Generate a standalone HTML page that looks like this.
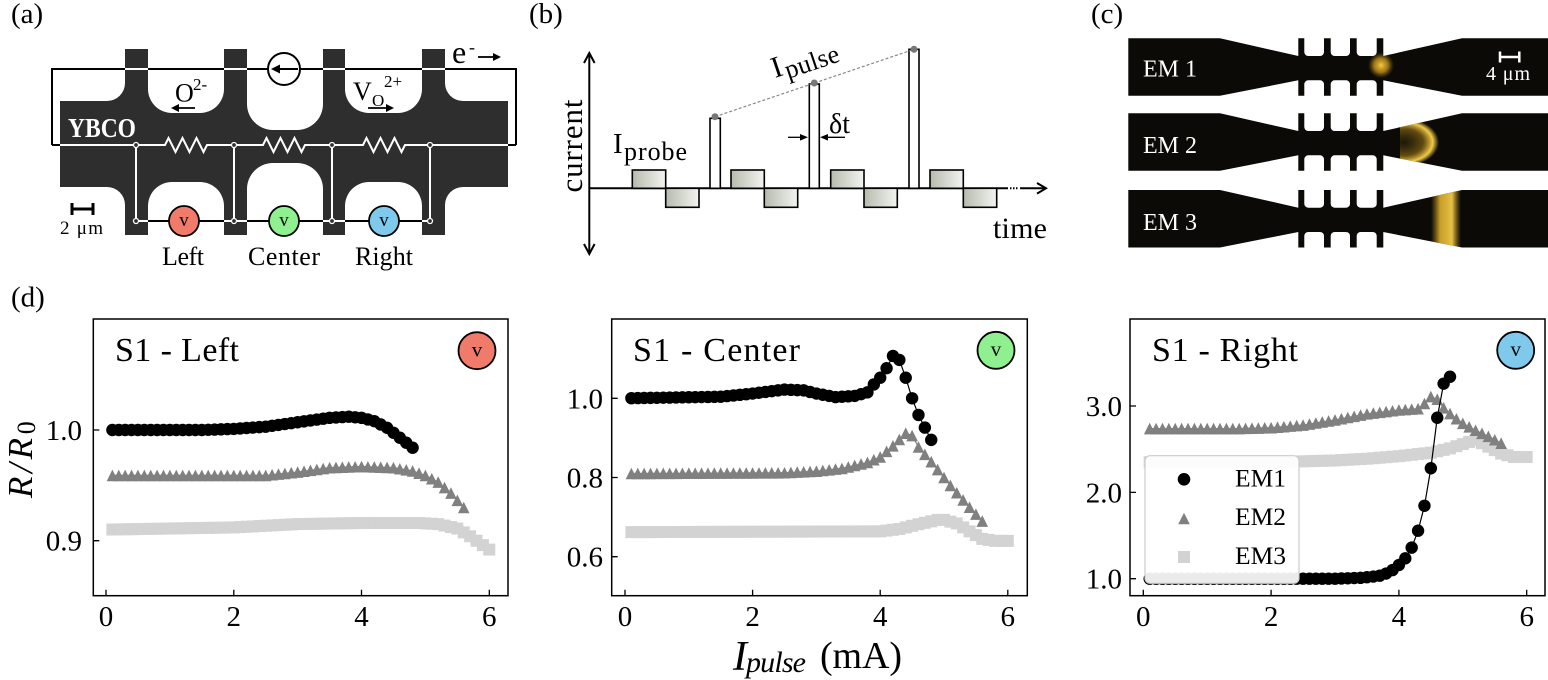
<!DOCTYPE html>
<html><head><meta charset="utf-8"><style>
html,body{margin:0;padding:0;background:#fff;}
svg{display:block;font-family:"Liberation Serif","DejaVu Serif",serif;}
</style></head><body>
<svg width="1548" height="680" viewBox="0 0 1548 680" xmlns="http://www.w3.org/2000/svg">
<defs>
<linearGradient id="gb" x1="0" y1="0" x2="1" y2="0"><stop offset="0" stop-color="#b6bbae"/><stop offset="1" stop-color="#f3f4f0"/></linearGradient>
<radialGradient id="glow"><stop offset="0" stop-color="#ffd54a" stop-opacity="0.95"/><stop offset="0.55" stop-color="#d9a21a" stop-opacity="0.7"/><stop offset="1" stop-color="#8a6a10" stop-opacity="0"/></radialGradient>
<radialGradient id="ring"><stop offset="0" stop-color="#8a6a10" stop-opacity="0.15"/><stop offset="0.55" stop-color="#c89a20" stop-opacity="0.45"/><stop offset="0.82" stop-color="#ffd54a" stop-opacity="0.95"/><stop offset="1" stop-color="#ffd54a" stop-opacity="0"/></radialGradient>
<linearGradient id="band" x1="0" y1="0" x2="1" y2="0"><stop offset="0" stop-color="#c89a20" stop-opacity="0"/><stop offset="0.3" stop-color="#e8b830" stop-opacity="0.85"/><stop offset="0.7" stop-color="#ffd54a" stop-opacity="0.9"/><stop offset="1" stop-color="#c89a20" stop-opacity="0"/></linearGradient>
<g id="strip">
<path d="M1128.3 0 H1220 L1298.3 17.7 V0 H1383.3 V17.7 L1462 0 H1548 V57.5 H1462 L1383.3 42 V57.5 H1298.3 V42 L1220 57.5 H1128.3 Z" fill="#0b0a06"/>
<rect x="1304.3" y="-6" width="19.7" height="23.7" rx="4" fill="#fff"/>
<rect x="1330.7" y="-6" width="19.3" height="23.7" rx="4" fill="#fff"/>
<rect x="1356.7" y="-6" width="20" height="23.7" rx="4" fill="#fff"/>
<rect x="1304.3" y="42" width="19.7" height="22" rx="4" fill="#fff"/>
<rect x="1330.7" y="42" width="19.3" height="22" rx="4" fill="#fff"/>
<rect x="1356.7" y="42" width="20" height="22" rx="4" fill="#fff"/>
</g>
<clipPath id="sc"><path d="M1128.3 0 H1220 L1298.3 17.7 V0 H1383.3 V17.7 L1462 0 H1548 V57.5 H1462 L1383.3 42 V57.5 H1298.3 V42 L1220 57.5 H1128.3 Z"/></clipPath>
<clipPath id="halfR"><rect x="1400" y="-10" width="100" height="80"/></clipPath>
</defs>

<!-- ===== Panel (a) ===== -->
<rect x="60" y="49" width="448" height="186" fill="#2e2e2e"/>
<g fill="#fff">
<rect x="10" y="20" width="115" height="81" rx="18"/>
<rect x="148" y="20" width="76" height="93" rx="24"/>
<rect x="247" y="20" width="76" height="110" rx="26"/>
<rect x="345" y="20" width="77" height="93" rx="24"/>
<rect x="445" y="20" width="95" height="81" rx="18"/>
<rect x="10" y="187" width="115" height="73" rx="18"/>
<rect x="148" y="182" width="76" height="78" rx="24"/>
<rect x="247" y="163" width="76" height="97" rx="26"/>
<rect x="345" y="182" width="77" height="78" rx="24"/>
<rect x="445" y="187" width="95" height="73" rx="18"/>
</g>
<text x="11" y="23" font-size="29">(a)</text>
<g fill="none" stroke-width="2">
<path d="M52 145 V69 H125 M148 69 H224 M247 69 H268 M300 69 H323 M345 69 H422 M445 69 H516 V145 M52 145 H60 M508 145 H516" stroke="#000"/>
<path d="M125 69 H148 M224 69 H247 M323 69 H345 M422 69 H445" stroke="#fff"/>
<path d="M60 145 H165 L168.5 138 L175.5 152 L182.5 138 L189.5 152 L196.5 138 L203.5 152 L207 145 H263 L266.5 138 L273.5 152 L280.5 138 L287.5 152 L294.5 138 L301.5 152 L305 145 H363 L366.5 138 L373.5 152 L380.5 138 L387.5 152 L394.5 138 L401.5 152 L405 145 H508" stroke="#fff"/>
<path d="M136 145 V221 M234 145 V221 M332 145 V221 M430 145 V221" stroke="#fff"/>
<path d="M136 221 H430" stroke="#000"/>
<path d="M136 221 H148 M224 221 H247 M323 221 H345 M422 221 H430" stroke="#fff"/>
</g>
<g fill="#2e2e2e" stroke="#fff" stroke-width="1.3">
<circle cx="136" cy="145" r="2.5"/><circle cx="234" cy="145" r="2.5"/><circle cx="332" cy="145" r="2.5"/><circle cx="430" cy="145" r="2.5"/>
<circle cx="136" cy="221" r="2.5"/><circle cx="234" cy="221" r="2.5"/><circle cx="332" cy="221" r="2.5"/><circle cx="430" cy="221" r="2.5"/>
</g>
<circle cx="284" cy="69" r="16" fill="#fff" stroke="#000" stroke-width="2"/>
<path d="M298 69 H277" stroke="#000" stroke-width="2"/>
<path d="M271 69 L280 64.5 L280 73.5 Z" fill="#000"/>
<g stroke="#000" stroke-width="1.8">
<circle cx="184" cy="221" r="15" fill="#f07b6b"/>
<circle cx="284" cy="221" r="15" fill="#8ff08f"/>
<circle cx="384" cy="221" r="15" fill="#7ec9ec"/>
</g>
<g font-size="19" text-anchor="middle" fill="#000">
<text x="184" y="226">v</text><text x="284" y="226">v</text><text x="384" y="226">v</text>
</g>
<text x="68" y="137" font-size="27" font-weight="bold" fill="#fff" textLength="68" lengthAdjust="spacingAndGlyphs">YBCO</text>
<text x="175" y="101.5" font-size="26">O</text>
<text x="193" y="90" font-size="17">2-</text>
<path d="M195 108 H178" stroke="#000" stroke-width="1.8"/><path d="M171 108 L179 104 L179 112 Z" fill="#000"/>
<text x="353" y="100" font-size="26">V</text>
<text x="372" y="106" font-size="17">O</text>
<text x="384" y="87" font-size="17">2+</text>
<path d="M368 108 H387" stroke="#000" stroke-width="1.8"/><path d="M394 108 L386 104 L386 112 Z" fill="#000"/>
<text x="452" y="63" font-size="32">e</text>
<text x="469" y="53" font-size="18">-</text>
<path d="M478 57 H494" stroke="#000" stroke-width="1.8"/><path d="M501 57 L493 53 L493 61 Z" fill="#000"/>
<path d="M72 209 H93 M72 203 V215 M93 203 V215" stroke="#000" stroke-width="3" fill="none"/>
<text x="60" y="234" font-size="19" textLength="43">2 μm</text>
<text x="162" y="265" font-size="26" textLength="42">Left</text>
<text x="248" y="265" font-size="26" textLength="72">Center</text>
<text x="355" y="265" font-size="26" textLength="58">Right</text>

<!-- ===== Panel (b) ===== -->
<text x="529" y="23" font-size="29">(b)</text>
<g stroke="#000" stroke-width="2" fill="none">
<path d="M589.3 55 V252"/>
<path d="M584 63 L589.3 53 L594.6 63 M584 244 L589.3 254 L594.6 244"/>
<path d="M589.3 188.3 H1008 M1020 188.3 H1045"/>
<path d="M1037 183 L1046 188.3 L1037 193.6"/>
</g>
<path d="M1010 188.3 H1019" stroke="#000" stroke-width="2" stroke-dasharray="1.5,1.5"/>
<g stroke="#000" stroke-width="1.6" fill="url(#gb)">
<rect x="632.3" y="170" width="33.4" height="18.3"/><rect x="665.7" y="188.3" width="33.3" height="19"/>
<rect x="731" y="170" width="33.3" height="18.3"/><rect x="764.3" y="188.3" width="33.4" height="19"/>
<rect x="830.7" y="170" width="33.3" height="18.3"/><rect x="864" y="188.3" width="33.3" height="19"/>
<rect x="930" y="170" width="33.3" height="18.3"/><rect x="963.3" y="188.3" width="33.4" height="19"/>
</g>
<g stroke="#000" stroke-width="1.6" fill="#fff">
<rect x="710" y="118.3" width="10.3" height="70"/>
<rect x="809.3" y="84" width="10" height="104.3"/>
<rect x="909" y="49.3" width="10" height="139"/>
</g>
<path d="M715 116.7 L914 49.3" stroke="#888" stroke-width="1.2" stroke-dasharray="3,2"/>
<g fill="#777"><circle cx="715" cy="116.7" r="3.5"/><circle cx="814.3" cy="83" r="3.5"/><circle cx="914" cy="49.3" r="3.5"/></g>
<g transform="translate(775,78) rotate(-18.7)">
<text x="0" y="0" font-size="30">I</text>
<text x="12" y="5" font-size="26" textLength="56">pulse</text>
</g>
<text x="613" y="153" font-size="29">I</text>
<text x="624" y="160" font-size="26" textLength="63">probe</text>
<text x="829" y="133" font-size="28">δt</text>
<path d="M788 137.3 H801" stroke="#000" stroke-width="1.3"/><path d="M808 137.3 L800 134 L800 140.6 Z" fill="#000"/>
<path d="M845 137.3 H827" stroke="#000" stroke-width="1.3"/><path d="M820 137.3 L828 134 L828 140.6 Z" fill="#000"/>
<text transform="translate(582,146) rotate(-90)" text-anchor="middle" font-size="31" textLength="93">current</text>
<text x="993" y="238" font-size="30" textLength="54">time</text>

<!-- ===== Panel (c) ===== -->
<text x="1091" y="23" font-size="29">(c)</text>
<g transform="translate(0,38.3)"><use href="#strip"/><g clip-path="url(#sc)"><circle cx="1381" cy="27" r="13" fill="url(#glow)"/></g></g>
<g transform="translate(0,113.3)"><use href="#strip"/><g clip-path="url(#sc)"><g clip-path="url(#halfR)"><ellipse cx="1404" cy="29" rx="35" ry="24" fill="url(#ring)"/></g></g></g>
<g transform="translate(0,190)"><use href="#strip"/><g clip-path="url(#sc)"><rect x="1431" y="0" width="30" height="58" fill="url(#band)"/></g></g>
<g fill="#fff" font-size="24">
<text x="1143" y="76.7" textLength="54">EM 1</text>
<text x="1143" y="153" textLength="54">EM 2</text>
<text x="1143" y="230" textLength="54">EM 3</text>
</g>
<path d="M1500 57 H1519.3 M1500 51.5 V62.5 M1519.3 51.5 V62.5" stroke="#fff" stroke-width="2.5" fill="none"/>
<text x="1486" y="80" font-size="20" fill="#fff" textLength="44">4 μm</text>

<!-- ===== Panel (d) ===== -->
<text x="11" y="306.5" font-size="29">(d)</text>

<g id="d1"></g><g id="d2"></g><g id="d3"></g>

<g fill="none" stroke="#000" stroke-width="1.5">
<rect x="93.3" y="319" width="414.7" height="276.7"/>
<rect x="611.7" y="319" width="415.6" height="276.7"/>
<rect x="1130" y="319" width="415" height="276.7"/>
</g>
<g stroke="#000" stroke-width="1.3">
<path d="M106 595.7 V589.7 M233.8 595.7 V589.7 M361.5 595.7 V589.7 M489.3 595.7 V589.7 M93.3 430 H99.3 M93.3 540.7 H99.3"/>
<path d="M625 595.7 V589.7 M752.6 595.7 V589.7 M880.2 595.7 V589.7 M1007.8 595.7 V589.7 M611.7 398.3 H617.7 M611.7 477.5 H617.7 M611.7 556.7 H617.7"/>
<path d="M1143.3 595.7 V589.7 M1271.1 595.7 V589.7 M1398.9 595.7 V589.7 M1526.7 595.7 V589.7 M1130 406 H1136 M1130 492.4 H1136 M1130 578.7 H1136"/>
</g>
<g font-size="29" text-anchor="middle">
<text x="106" y="626">0</text><text x="233.8" y="626">2</text><text x="361.5" y="626">4</text><text x="489.3" y="626">6</text>
<text x="625" y="626">0</text><text x="752.6" y="626">2</text><text x="880.2" y="626">4</text><text x="1007.8" y="626">6</text>
<text x="1143.3" y="626">0</text><text x="1271.1" y="626">2</text><text x="1398.9" y="626">4</text><text x="1526.7" y="626">6</text>
</g>
<g font-size="29" text-anchor="end">
<text x="82" y="440">1.0</text><text x="82" y="550.7">0.9</text>
<text x="603" y="408.3">1.0</text><text x="603" y="487.5">0.8</text><text x="603" y="566.7">0.6</text>
<text x="1122" y="416">3.0</text><text x="1122" y="502.4">2.0</text><text x="1122" y="588.7">1.0</text>
</g>
<g font-size="34">
<text x="115" y="361" textLength="124">S1 - Left</text>
<text x="633" y="361" textLength="167">S1 - Center</text>
<text x="1152" y="361" textLength="146">S1 - Right</text>
</g>
<g stroke="#000" stroke-width="1.8">
<circle cx="477" cy="350.7" r="18.5" fill="#f07b6b"/>
<circle cx="996" cy="350.3" r="18.5" fill="#8ff08f"/>
<circle cx="1515.7" cy="350.3" r="18.5" fill="#7ec9ec"/>
</g>
<g font-size="21" text-anchor="middle">
<text x="477" y="356.5">v</text><text x="996" y="356">v</text><text x="1515.7" y="356">v</text>
</g>

<rect x="1145" y="455.7" width="154" height="127.6" rx="5" fill="#fff" fill-opacity="0.92" stroke="#cccccc" stroke-width="1.2"/>
<circle cx="1184" cy="479.3" r="6.3" fill="#000"/>
<path d="M1184 512.7 L1189.8 524.2 L1178.2 524.2 Z" fill="#808080"/>
<rect x="1178" y="551" width="12" height="12" fill="#d3d3d3"/>
<g font-size="25">
<text x="1235" y="486.7" textLength="51" lengthAdjust="spacingAndGlyphs">EM1</text>
<text x="1235" y="525" textLength="51" lengthAdjust="spacingAndGlyphs">EM2</text>
<text x="1235" y="564" textLength="51" lengthAdjust="spacingAndGlyphs">EM3</text>
</g>

<text transform="translate(32,498) rotate(-90)"><tspan font-size="35" font-style="italic" textLength="60">R/R</tspan><tspan font-size="26" dy="3">0</tspan></text>
<text x="733" y="670" font-size="42" font-style="italic">I</text>
<text x="746" y="672" font-size="30" font-style="italic" textLength="60">pulse</text>
<text x="820" y="668" font-size="38" textLength="82">(mA)</text>
</svg>
<script>
(function(){
function lin(p,x){for(var i=0;i<p.length-1;i++){if(x<=p[i+1][0]+1e-9){var t=(x-p[i][0])/(p[i+1][0]-p[i][0]);return p[i][1]+t*(p[i+1][1]-p[i][1]);}}return p[p.length-1][1];}
var col={c:'#000',t:'#808080',s:'#d3d3d3'};
function mk(t,X,y){
 if(t==='c')return '<circle cx="'+X.toFixed(2)+'" cy="'+y.toFixed(2)+'" r="6.2" fill="#000"/>';
 if(t==='t')return '<path d="M'+X.toFixed(2)+' '+(y-5.8).toFixed(2)+'L'+(X+5.8).toFixed(2)+' '+(y+5.8).toFixed(2)+'L'+(X-5.8).toFixed(2)+' '+(y+5.8).toFixed(2)+'Z" fill="#808080"/>';
 return '<rect x="'+(X-6).toFixed(2)+'" y="'+(y-6).toFixed(2)+'" width="12" height="12" fill="#d3d3d3"/>';
}
var P=[
{g:'d1',X:function(x){return 106+63.88*x},Y:function(y){return 430-1107*(y-1)},s:[
 {t:'s',a:1,b:60,p:[[0,0.910],[2,0.912],[3,0.915],[4,0.916],[4.9,0.916],[5.2,0.915],[5.5,0.911],[5.7,0.904],[5.85,0.898],[6.0,0.892]]},
 {t:'t',a:1,b:56,p:[[0,0.959],[2.5,0.959],[3.0,0.962],[3.5,0.966],[4.0,0.967],[4.5,0.966],[4.8,0.963],[5.0,0.959],[5.2,0.953],[5.4,0.943],[5.6,0.930]]},
 {t:'c',a:1,b:48,p:[[0,1.0],[1.5,1.0],[2.0,1.001],[2.5,1.003],[3.0,1.007],[3.5,1.011],[3.8,1.012],[4.0,1.011],[4.2,1.008],[4.4,1.002],[4.6,0.993],[4.8,0.984]]}
]},
{g:'d2',X:function(x){return 625+63.8*x},Y:function(y){return 398.3-396*(y-1)},s:[
 {t:'s',a:1,b:60,p:[[0,0.662],[4.0,0.664],[4.3,0.670],[4.6,0.682],[4.9,0.693],[5.0,0.693],[5.2,0.684],[5.4,0.664],[5.6,0.645],[5.8,0.640],[6.0,0.640]]},
 {t:'t',a:1,b:56,p:[[0,0.81],[2.5,0.812],[3.0,0.816],[3.4,0.823],[3.8,0.838],[4.0,0.852],[4.2,0.88],[4.4,0.912],[4.5,0.906],[4.6,0.877],[4.8,0.84],[5.1,0.78],[5.4,0.725],[5.6,0.69]]},
 {t:'c',a:1,b:48,p:[[0,1.0],[1.5,1.004],[2.0,1.012],[2.5,1.022],[2.8,1.02],[3.0,1.012],[3.3,1.003],[3.6,1.006],[3.8,1.015],[3.9,1.035],[4.0,1.052],[4.1,1.076],[4.2,1.107],[4.3,1.097],[4.4,1.052],[4.5,1.0],[4.6,0.958],[4.7,0.926],[4.8,0.895]]}
]},
{g:'d3',X:function(x){return 1143.3+63.9*x},Y:function(y){return 578.7-86.3*(y-1)},s:[
 {t:'s',a:1,b:60,p:[[0,2.35],[2.0,2.35],[3.0,2.37],[3.5,2.39],[4.0,2.42],[4.5,2.46],[4.8,2.51],[5.0,2.56],[5.2,2.61],[5.4,2.53],[5.6,2.45],[5.8,2.41],[6.0,2.41]]},
 {t:'t',a:1,b:56,p:[[0,2.74],[1.5,2.74],[2.0,2.75],[2.5,2.78],[3.0,2.84],[3.5,2.91],[4.0,2.955],[4.3,2.97],[4.4,3.03],[4.5,3.11],[4.55,3.13],[4.7,2.98],[4.85,2.88],[5.0,2.80],[5.2,2.72],[5.4,2.65],[5.6,2.57]]},
 {t:'c',a:1,b:48,p:[[0,1.0],[3.0,1.0],[3.4,1.01],[3.6,1.025],[3.7,1.035],[3.8,1.06],[3.9,1.10],[4.0,1.159],[4.1,1.236],[4.2,1.36],[4.3,1.556],[4.4,1.845],[4.5,2.28],[4.6,2.865],[4.7,3.26],[4.8,3.34]]}
]}
];
P.forEach(function(pn){
 var h='';
 pn.s.forEach(function(s){
  var pts=[],m='';
  for(var k=s.a;k<=s.b;k++){var x=k/10,y=lin(s.p,x);var X=pn.X(x),Y=pn.Y(y);pts.push(X.toFixed(2)+','+Y.toFixed(2));m+=mk(s.t,X,Y);}
  h+='<polyline points="'+pts.join(' ')+'" fill="none" stroke="'+col[s.t]+'" stroke-width="1.2"/>'+m;
 });
 document.getElementById(pn.g).insertAdjacentHTML('beforeend',h);
});
})();
</script>
</body></html>
